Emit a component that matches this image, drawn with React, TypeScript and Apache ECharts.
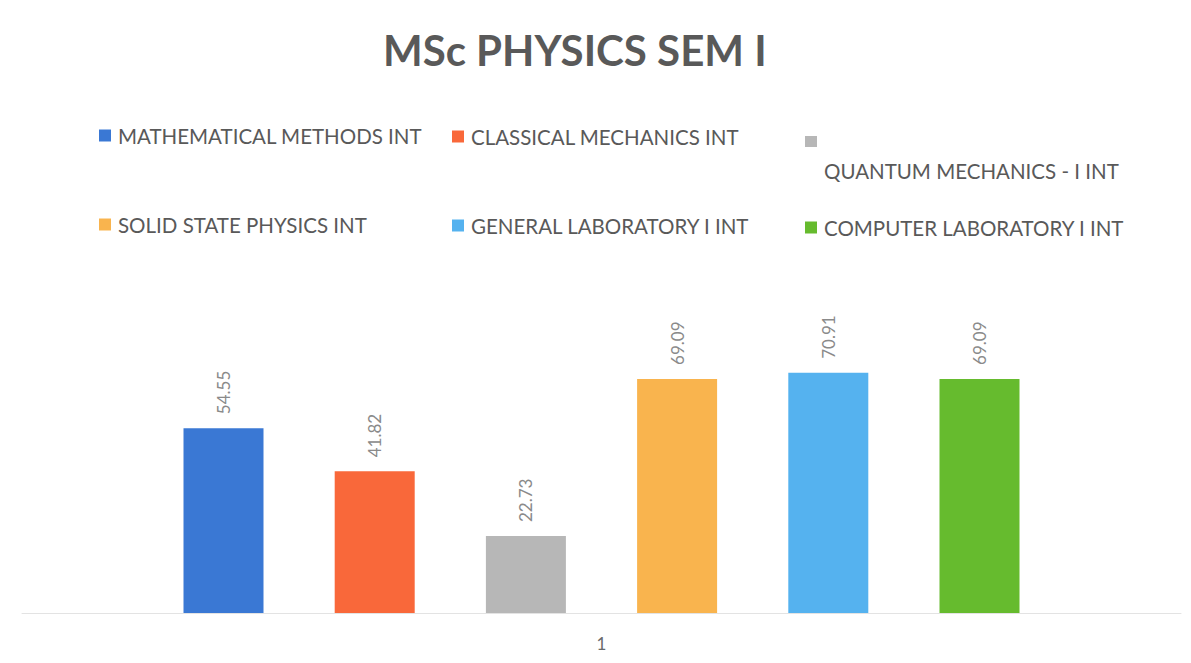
import React, { useEffect, useRef } from "react";
import * as echarts from "echarts";

const categories = ["1"];
const seriesNames = [
  "MATHEMATICAL METHODS INT",
  "CLASSICAL MECHANICS INT",
  "QUANTUM MECHANICS - I INT",
  "SOLID STATE PHYSICS INT",
  "GENERAL LABORATORY I INT",
  "COMPUTER LABORATORY I INT",
];
const seriesValues = [54.55, 41.82, 22.73, 69.09, 70.91, 69.09];
const seriesColors = ["#3a78d4", "#f9683a", "#b7b7b7", "#f9b44e", "#55b2ef", "#66bb2e"];

const FONT = "Lato, 'Open Sans', sans-serif";
const TXT = "#595959";

export default function App() {
  const ref = useRef<HTMLDivElement>(null);
  useEffect(() => {
    if (!ref.current) return;
    const chart = echarts.init(ref.current, undefined, { renderer: "svg" });
    const legendPos: Record<number, { left: number; top: number }> = {
      0: { left: 99, top: 125 },
      1: { left: 452, top: 126 },
      3: { left: 99, top: 214 },
      4: { left: 452, top: 215 },
      5: { left: 805, top: 217 },
    };
    const legends = [0, 1, 3, 4, 5].map((i) => ({
      data: [seriesNames[i]],
      left: legendPos[i].left,
      top: legendPos[i].top,
      padding: 0,
      icon: "rect",
      itemWidth: 12,
      itemHeight: 12,
      selectedMode: false,
      textStyle: { fontFamily: FONT, fontSize: 20.5, color: TXT, padding: [0, 0, 0, 2] },
    }));
    chart.setOption({
      animation: false,
      backgroundColor: "#ffffff",
      title: {
        text: "MSc PHYSICS SEM I",
        left: 383,
        top: 29,
        padding: 0,
        textStyle: { fontFamily: FONT, fontSize: 42, fontWeight: "bold", color: TXT },
      },
      legend: legends,
      graphic: [
        {
          type: "rect",
          left: 805,
          top: 136,
          shape: { width: 12, height: 11 },
          style: { fill: seriesColors[2] },
        },
        {
          type: "text",
          left: 824,
          top: 160,
          style: { text: seriesNames[2], fontFamily: FONT, fontSize: 20.5, fill: TXT },
        },
      ],
      grid: { left: 22, right: 10, top: 342, bottom: 50 },
      xAxis: {
        type: "category",
        data: categories,
        axisLine: { lineStyle: { color: "#e3e3e3" } },
        axisTick: { show: false },
        axisLabel: { fontFamily: FONT, fontSize: 17, color: "#6a6a6a", margin: 22 },
      },
      yAxis: {
        type: "value",
        min: 0,
        max: 80,
        show: false,
        splitLine: { show: false },
      },
      series: seriesNames.map((n, i) => ({
        name: n,
        type: "bar",
        data: [seriesValues[i]],
        barWidth: 80,
        barGap: "89%",
        itemStyle: { color: seriesColors[i] },
        label: {
          show: true,
          position: "top",
          rotate: 90,
          align: "left",
          verticalAlign: "middle",
          distance: 14,
          fontFamily: FONT,
          fontSize: 17,
          color: "#8a8a8a",
          formatter: (p: any) => p.value.toFixed(2),
        },
      })),
    });
    return () => chart.dispose();
  }, []);
  return (
    <div
      ref={ref}
      style={{ position: "fixed", left: 0, top: 0, width: 1191, height: 663 }}
    />
  );
}
